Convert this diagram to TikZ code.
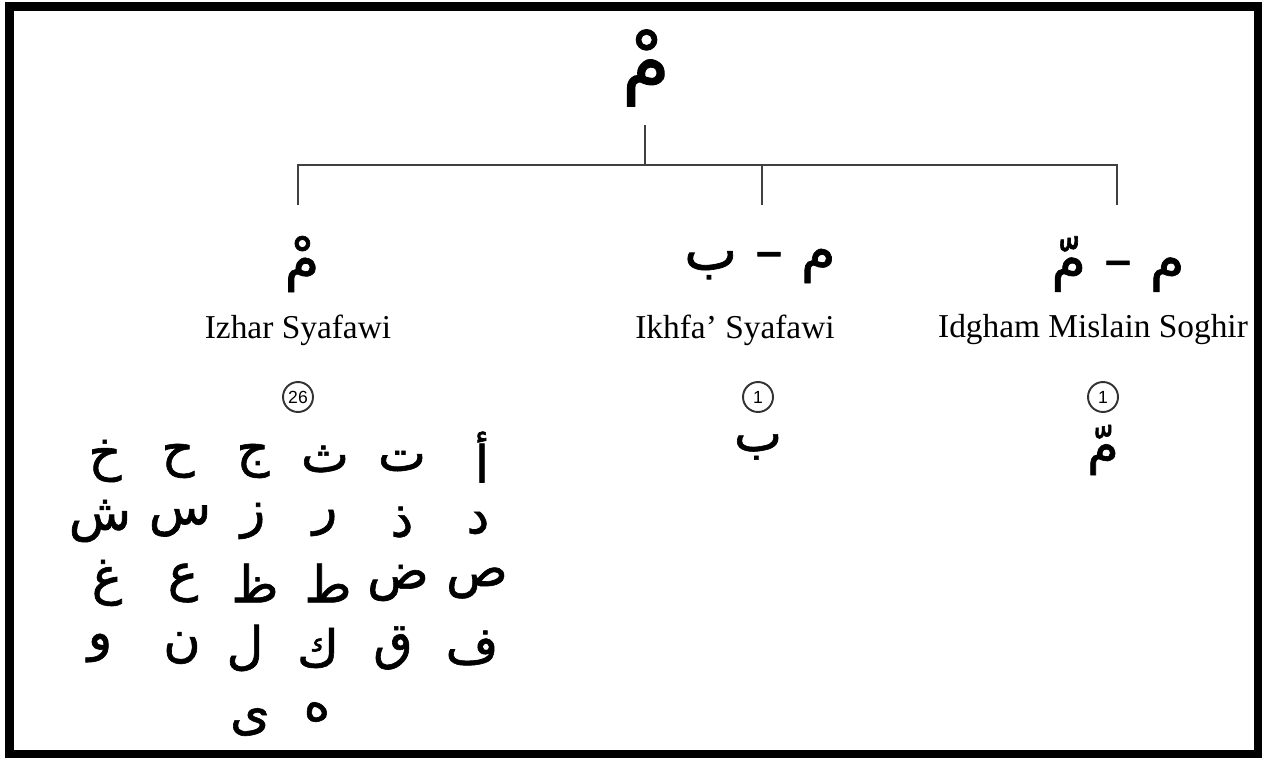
\documentclass[tikz,border=0pt]{standalone}
\usepackage{fontspec}
\setmainfont{Liberation Serif}
\newfontfamily\arabicfont[Script=Arabic,FakeBold=1.2]{DejaVu Sans}
\newfontfamily\numfont{Liberation Sans}
\TeXXeTstate=1
\tikzset{
  harf/.style={font=\arabicfont\fontsize{29}{33}\selectfont,inner sep=0pt},
  judul/.style={font=\arabicfont\fontsize{32}{36}\selectfont,inner sep=0pt},
  hukum/.style={font=\fontsize{19}{22}\selectfont,inner sep=0pt},
  jumlah/.style={circle,draw=black!80,line width=1.1pt,minimum size=0.6cm,inner sep=0pt,font=\numfont\fontsize{10}{11}\selectfont},
  cabang/.style={draw=black!75,line width=1.1pt}
}
\begin{document}
\begin{tikzpicture}[x=0.02cm,y=-0.02cm]
				\useasboundingbox (0,0) rectangle (1267,761);
				\draw[line width=4.6pt] (9.5,6.5) rectangle (1258,754);
				% pohon
				\node[judul,font=\arabicfont\fontsize{44}{48}\selectfont] (akar) at (646,68) {\beginR مْ\endR};
				\coordinate (batang) at (645,125);
				\coordinate (simpul) at (645,165);
				\coordinate (jL) at (298,165);
				\coordinate (jM) at (762,165);
				\coordinate (jR) at (1117,165);
				\coordinate (eL) at (298,205);
				\coordinate (eM) at (762,205);
				\coordinate (eR) at (1117,205);
				\draw[cabang] (batang)--(simpul);
				\draw[cabang] (eL)--(jL)--(jR)--(eR);
				\draw[cabang] (jM)--(eM);
				% tiga hukum
				\node[judul] (izhar) at (302,264) {\beginR مْ\endR};
				\node[judul] (ikhfa) at (760,266) {\beginR م – ب\endR};
				\node[judul] (idgham) at (1118,264) {\beginR م – مّ\endR};
				\node[hukum] (nizhar) at (298,330) {Izhar Syafawi};
				\node[hukum] (nikhfa) at (735,330) {Ikhfa’ Syafawi};
				\node[hukum] (nidgham) at (1093,330) {Idgham Mislain Soghir};
				\node[jumlah] (c26) at (298,397) {26};
				\node[jumlah] (c1a) at (758,397) {1};
				\node[jumlah] (c1b) at (1103,397) {1};
				\node[harf] (ba) at (758,447) {\beginR ب\endR};
				\node[harf] (mim) at (1103,450) {\beginR مّ\endR};
				% huruf izhar
				\node[harf] (alif) at (482,457) {\beginR أ\endR};
				\node[harf] (ta) at (402,461) {\beginR ت\endR};
				\node[harf] (tsa) at (325,459) {\beginR ث\endR};
				\node[harf] (jim) at (253,461) {\beginR ج\endR};
				\node[harf] (ha) at (178,461) {\beginR ح\endR};
				\node[harf] (kha) at (105,461) {\beginR خ\endR};
				\node[harf] (dal) at (478,523) {\beginR د\endR};
				\node[harf] (dzal) at (402,522) {\beginR ذ\endR};
				\node[harf] (ra) at (325,523) {\beginR ر\endR};
				\node[harf] (zai) at (253,521) {\beginR ز\endR};
				\node[harf] (sin) at (180,521) {\beginR س\endR};
				\node[harf] (syin) at (100,521) {\beginR ش\endR};
				\node[harf] (shad) at (477,583) {\beginR ص\endR};
				\node[harf] (dhad) at (398,583) {\beginR ض\endR};
				\node[harf] (tha) at (328,583) {\beginR ط\endR};
				\node[harf] (zha) at (255,583) {\beginR ظ\endR};
				\node[harf] (ain) at (183,583) {\beginR ع\endR};
				\node[harf] (ghain) at (107,583) {\beginR غ\endR};
				\node[harf] (fa) at (472,648) {\beginR ف\endR};
				\node[harf] (qaf) at (393,648) {\beginR ق\endR};
				\node[harf] (kaf) at (318,648) {\beginR ك\endR};
				\node[harf] (lam) at (245,648) {\beginR ل\endR};
				\node[harf] (nun) at (182,648) {\beginR ن\endR};
				\node[harf] (wau) at (100,648) {\beginR و\endR};
				\node[harf] (haa) at (317,712) {\beginR ه\endR};
				\node[harf] (ya) at (250,722) {\beginR ى\endR};
\end{tikzpicture}
\end{document}
